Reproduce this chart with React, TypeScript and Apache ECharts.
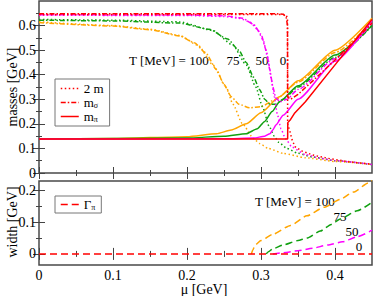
import React, { useEffect, useRef } from 'react';
import * as echarts from 'echarts';

const FONT = 'Liberation Serif';

// ---- axis ticks ----
const muMajor = [0, 0.1, 0.2, 0.3, 0.4];
const muMinor = [0.05, 0.15, 0.25, 0.35];
const massMajor = [0, 0.1, 0.2, 0.3, 0.4, 0.5, 0.6];
const massMinor = [0.05, 0.15, 0.25, 0.35, 0.45, 0.55, 0.65];
const widthMajor = [0, 0.1, 0.2];
const widthMinor = [0.05, 0.15];

// ---- T = 0 MeV (red) ----
const twoM_T0: [number, number][] = [[0, 0.645], [0.33, 0.645], [0.334, 0.643], [0.3358, 0.63], [0.336, 0.2], [0.339, 0.17], [0.342, 0.135], [0.346, 0.107], [0.355, 0.09], [0.37, 0.073], [0.39, 0.06], [0.41, 0.05], [0.43, 0.042], [0.45, 0.036]];
const mSig_T0: [number, number][] = [[0, 0.648], [0.32, 0.648], [0.33, 0.646], [0.334, 0.635], [0.3358, 0.6], [0.336, 0.31], [0.34, 0.3], [0.35, 0.32], [0.37, 0.375], [0.4, 0.46], [0.45, 0.61]];
const mPi_T0: [number, number][] = [[0, 0.138], [0.336, 0.138], [0.3362, 0.205], [0.34, 0.218], [0.345, 0.242], [0.36, 0.29], [0.4, 0.44], [0.45, 0.625]];

// ---- T = 50 MeV (magenta) ----
const twoM_T50: [number, number][] = [[0, 0.642], [0.2, 0.641], [0.25, 0.637], [0.27, 0.63], [0.285, 0.615], [0.295, 0.585], [0.303, 0.54], [0.309, 0.47], [0.314, 0.38], [0.318, 0.31], [0.322, 0.24], [0.327, 0.18], [0.333, 0.14], [0.342, 0.105], [0.36, 0.075], [0.38, 0.06], [0.4, 0.05], [0.45, 0.035]];
const mSig_T50: [number, number][] = [[0, 0.644], [0.2, 0.643], [0.25, 0.64], [0.275, 0.63], [0.29, 0.605], [0.3, 0.565], [0.307, 0.5], [0.312, 0.42], [0.316, 0.35], [0.32, 0.305], [0.326, 0.29], [0.335, 0.3], [0.35, 0.34], [0.4, 0.465], [0.45, 0.61]];
const mPi_T50: [number, number][] = [[0, 0.138], [0.25, 0.139], [0.29, 0.142], [0.305, 0.15], [0.312, 0.16], [0.316, 0.175], [0.32, 0.195], [0.33, 0.235], [0.35, 0.3], [0.4, 0.455], [0.45, 0.62]];

// ---- T = 75 MeV (green) ----
const twoM_T75: [number, number][] = [[0, 0.625], [0.1, 0.622], [0.19, 0.615], [0.235, 0.58], [0.262, 0.52], [0.28, 0.44], [0.293, 0.35], [0.302, 0.27], [0.311, 0.19], [0.318, 0.15], [0.324, 0.125], [0.335, 0.1], [0.35, 0.08], [0.37, 0.065], [0.4, 0.05], [0.45, 0.034]];
const mSig_T75: [number, number][] = [[0, 0.622], [0.1, 0.619], [0.19, 0.61], [0.23, 0.585], [0.255, 0.545], [0.27, 0.5], [0.28, 0.45], [0.29, 0.39], [0.298, 0.34], [0.305, 0.3], [0.312, 0.28], [0.32, 0.28], [0.33, 0.3], [0.35, 0.35], [0.4, 0.47], [0.45, 0.6]];
const mPi_T75: [number, number][] = [[0, 0.138], [0.2, 0.142], [0.25, 0.15], [0.28, 0.16], [0.295, 0.18], [0.305, 0.21], [0.315, 0.25], [0.325, 0.29], [0.35, 0.355], [0.4, 0.48], [0.45, 0.6]];

// ---- T = 100 MeV (orange) ----
const twoM_T100: [number, number][] = [[0, 0.615], [0.1, 0.6], [0.15, 0.585], [0.19, 0.56], [0.215, 0.52], [0.235, 0.44], [0.253, 0.35], [0.262, 0.28], [0.275, 0.2], [0.29, 0.14], [0.298, 0.12], [0.31, 0.1], [0.33, 0.08], [0.36, 0.062], [0.4, 0.047], [0.45, 0.035]];
const mSig_T100: [number, number][] = [[0, 0.612], [0.1, 0.598], [0.15, 0.583], [0.19, 0.558], [0.21, 0.53], [0.225, 0.49], [0.24, 0.42], [0.25, 0.36], [0.26, 0.31], [0.27, 0.28], [0.285, 0.265], [0.3, 0.27], [0.32, 0.3], [0.35, 0.37], [0.4, 0.49], [0.45, 0.615]];
const mPi_T100: [number, number][] = [[0, 0.138], [0.1, 0.14], [0.2, 0.148], [0.24, 0.16], [0.26, 0.175], [0.28, 0.2], [0.3, 0.245], [0.325, 0.31], [0.35, 0.375], [0.4, 0.5], [0.45, 0.63]];

// ---- pion width ----
const gam_T0: [number, number][] = [[0, 0], [0.45, 0]];
const gam_T50: [number, number][] = [[0.316, 0], [0.33, 0.004], [0.35, 0.01], [0.37, 0.018], [0.39, 0.028], [0.41, 0.038], [0.43, 0.054], [0.45, 0.075]];
const gam_T75: [number, number][] = [[0.307, 0], [0.31, 0.007], [0.316, 0.016], [0.33, 0.028], [0.35, 0.042], [0.362, 0.05], [0.38, 0.072], [0.395, 0.093], [0.407, 0.11], [0.43, 0.136], [0.45, 0.163]];
const gam_T100: [number, number][] = [[0.287, 0], [0.289, 0.012], [0.292, 0.028], [0.3, 0.042], [0.316, 0.062], [0.34, 0.09], [0.362, 0.12], [0.385, 0.147], [0.407, 0.172], [0.425, 0.195], [0.445, 0.224], [0.45, 0.232]];

const RED = '#ff0000';
const MAG = '#ff00ff';
const GRN = '#10a010';
const ORG = '#ffa500';

const DOT = [1.5, 2.5];
const DASHDOT = [5, 2, 1.5, 2];
const DASH = [7, 4];

const fmt = (v: number) => (v === 0 ? '0' : String(Math.round(v * 100) / 100));

function axis(kind: 'x' | 'y', grid: number, pos: string, min: number, max: number, ticks: number[], len: number, labels?: number[]) {
  return {
    type: 'value', gridIndex: grid, position: pos, min, max,
    axisLine: { show: false }, splitLine: { show: false },
    axisTick: { show: true, inside: true, length: len, customValues: ticks, lineStyle: { color: '#444', width: 1 } },
    axisLabel: labels
      ? { show: true, customValues: labels, formatter: fmt, margin: 3, color: '#000', fontSize: 14, fontFamily: FONT, showMaxLabel: true, showMinLabel: true }
      : { show: false },
  };
}

function line(name: string, data: [number, number][], color: string, type: any, grid: number, smooth = 0.2) {
  return {
    type: 'line', name, data, xAxisIndex: grid * 4, yAxisIndex: grid * 4,
    showSymbol: false, symbol: 'none', smooth, smoothMonotone: 'x', clip: true,
    lineStyle: { color, width: 1.5, type }, itemStyle: { color },
  };
}

const sub = (a: string, b: string) => `{t|${a}}{s|${b}}`;
const richStyle = {
  t: { fontSize: 13, fontFamily: FONT, color: '#000', lineHeight: 11, verticalAlign: 'middle' },
  s: { fontSize: 8, fontFamily: FONT, color: '#000', verticalAlign: 'bottom', lineHeight: 13 },
};
const hiddenSymbol = { color: 'rgba(0,0,0,0)', borderColor: 'rgba(0,0,0,0)', borderWidth: 0 };

export default function App() {
  const ref = useRef<HTMLDivElement>(null);
  useEffect(() => {
    if (!ref.current) return;
    const chart = echarts.init(ref.current, undefined, { renderer: 'svg' });
    const gridStyle = { show: true, borderColor: '#4a4a4a', borderWidth: 1.5, backgroundColor: 'transparent', outerBoundsMode: 'none' };
    const txt = (text: string, x: number, y: number, align = 'center', size = 13) => ({
      type: 'text', x, y, style: { text, fontSize: size, fontFamily: FONT, fill: '#000', align, verticalAlign: 'middle' },
    });
    const option: any = {
      animation: false,
      textStyle: { fontFamily: FONT },
      grid: [
        { left: 39, top: 1, width: 333, height: 172, ...gridStyle },
        { left: 39, top: 181, width: 333, height: 84, ...gridStyle },
      ],
      xAxis: [
        axis('x', 0, 'bottom', 0, 0.45, muMajor, 6),
        axis('x', 0, 'bottom', 0, 0.45, muMinor, 3),
        axis('x', 0, 'top', 0, 0.45, muMajor, 6),
        axis('x', 0, 'top', 0, 0.45, muMinor, 3),
        axis('x', 1, 'bottom', 0, 0.45, muMajor, 6, muMajor),
        axis('x', 1, 'bottom', 0, 0.45, muMinor, 3),
        axis('x', 1, 'top', 0, 0.45, muMajor, 6),
        axis('x', 1, 'top', 0, 0.45, muMinor, 3),
      ],
      yAxis: [
        axis('y', 0, 'left', 0, 0.7, massMajor, 6, massMajor),
        axis('y', 0, 'left', 0, 0.7, massMinor, 3),
        axis('y', 0, 'right', 0, 0.7, massMajor, 6),
        axis('y', 0, 'right', 0, 0.7, massMinor, 3),
        axis('y', 1, 'left', -0.035, 0.23, widthMajor, 6, widthMajor),
        axis('y', 1, 'left', -0.035, 0.23, widthMinor, 3),
        axis('y', 1, 'right', -0.035, 0.23, widthMajor, 6),
        axis('y', 1, 'right', -0.035, 0.23, widthMinor, 3),
      ],
      legend: [
        {
          left: 55, top: 79, orient: 'vertical',
          data: [
            { name: '2 m', lineStyle: { type: DOT, color: RED, width: 1.5 } },
            { name: 'mσ', lineStyle: { type: DASHDOT, color: RED, width: 1.5 } },
            { name: 'mπ', lineStyle: { type: 'solid', color: RED, width: 1.5 } },
          ],
          itemWidth: 18, itemHeight: 9, itemGap: 1, padding: [3, 6, 3, 5],
          itemStyle: hiddenSymbol,
          borderColor: '#777', borderWidth: 1, borderRadius: 0, selectedMode: false,
          formatter: (n: string) => (n === '2 m' ? '{t|2 m}' : sub('m', n.slice(1))),
          textStyle: { fontSize: 13, fontFamily: FONT, color: '#000', rich: richStyle },
        },
        {
          left: 55, top: 196, orient: 'vertical',
          data: [{ name: 'Γπ', lineStyle: { type: DASH, color: RED, width: 1.5 } }],
          itemWidth: 18, itemHeight: 9, itemGap: 1, padding: [2, 6, 2, 5],
          itemStyle: hiddenSymbol,
          borderColor: '#777', borderWidth: 1, borderRadius: 0, selectedMode: false,
          formatter: () => sub('Γ', 'π'),
          textStyle: { fontSize: 13, fontFamily: FONT, color: '#000', rich: richStyle },
        },
      ],
      series: [
        line('2m T100', twoM_T100, ORG, DOT, 0),
        line('mσ T100', mSig_T100, ORG, DASHDOT, 0),
        line('mπ T100', mPi_T100, ORG, 'solid', 0),
        line('2m T75', twoM_T75, GRN, DOT, 0),
        line('mσ T75', mSig_T75, GRN, DASHDOT, 0),
        line('mπ T75', mPi_T75, GRN, 'solid', 0),
        line('2m T50', twoM_T50, MAG, DOT, 0),
        line('mσ T50', mSig_T50, MAG, DASHDOT, 0),
        line('mπ T50', mPi_T50, MAG, 'solid', 0),
        line('2 m', twoM_T0, RED, DOT, 0, 0),
        line('mσ', mSig_T0, RED, DASHDOT, 0, 0),
        line('mπ', mPi_T0, RED, 'solid', 0, 0),
        line('Γ T100', gam_T100, ORG, DASH, 1),
        line('Γ T75', gam_T75, GRN, DASH, 1),
        line('Γ T50', gam_T50, MAG, DASH, 1),
        line('Γπ', gam_T0, RED, DASH, 1, 0),
      ],
      graphic: [
        { type: 'text', x: 12, y: 87, rotation: Math.PI / 2, style: { text: 'masses [GeV]', fontSize: 14, fontFamily: FONT, fill: '#000', align: 'center', verticalAlign: 'middle' } },
        { type: 'text', x: 12, y: 222, rotation: Math.PI / 2, style: { text: 'width [GeV]', fontSize: 14, fontFamily: FONT, fill: '#000', align: 'center', verticalAlign: 'middle' } },
        txt('μ [GeV]', 204, 289, 'center', 14),
        txt('T [MeV] = 100', 129, 60, 'left'),
        txt('75', 233, 60),
        txt('50', 262, 60),
        txt('0', 283, 60),
        txt('T [MeV] = 100', 255, 201, 'left'),
        txt('75', 340, 216),
        txt('50', 352, 231),
        txt('0', 359, 246),
      ],
    };
    chart.setOption(option);
    return () => chart.dispose();
  }, []);
  return <div ref={ref} style={{ position: 'fixed', left: 0, top: 0, width: 374, height: 296, background: '#fff' }} />;
}
